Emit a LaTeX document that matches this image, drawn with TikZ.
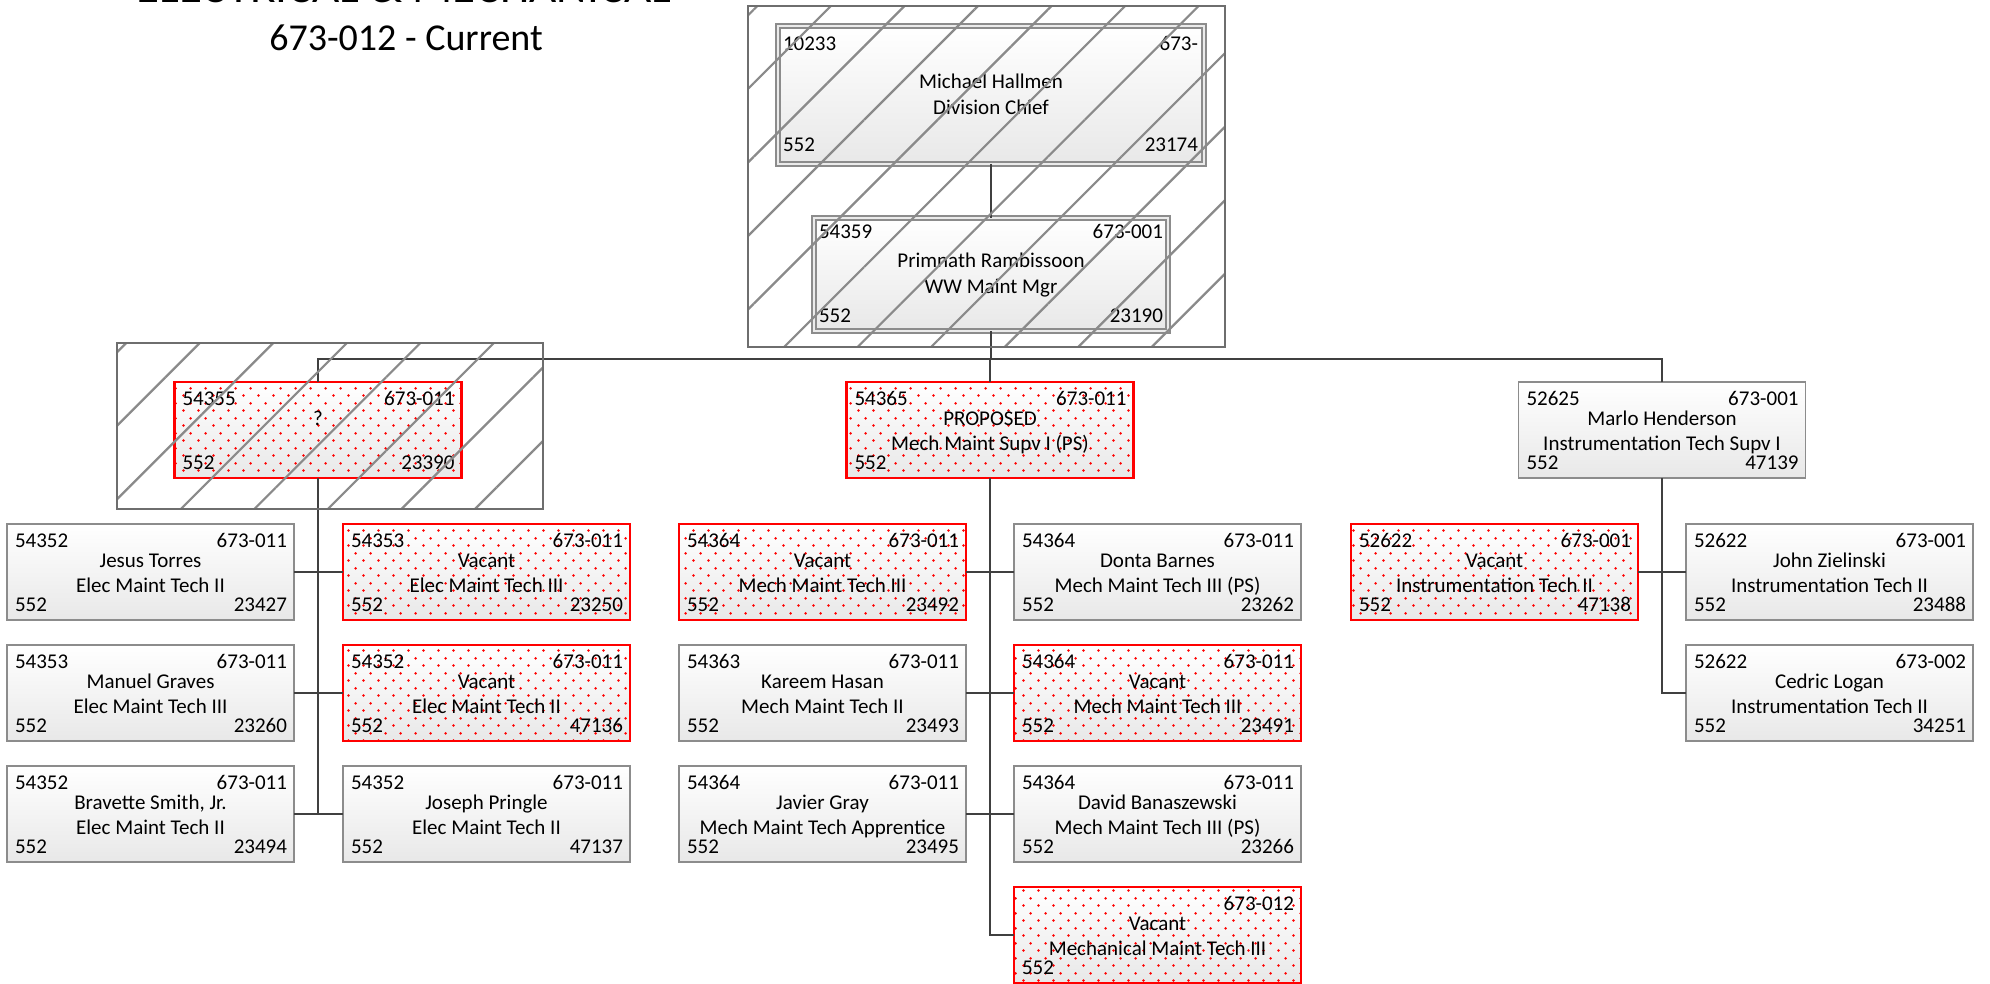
\documentclass[tikz,border=0pt]{standalone}
\usepackage{fontspec}
\setmainfont{Carlito}
\usetikzlibrary{patterns.meta}

\definecolor{bordo}{HTML}{8C8C8C}
\definecolor{fondo}{HTML}{E8E8E8}
\definecolor{collegamento}{HTML}{404040}
\definecolor{cornice}{HTML}{6E6E6E}
\definecolor{righe}{HTML}{8A8A8A}

% puntini rossi delle posizioni vacanti
\tikzdeclarepattern{
  name=puntini,
  type=uncolored,
  bounding box={(0pt,0pt) and (7.5pt,7.5pt)},
  tile size={(7.5pt,7.5pt)},
  code={
    \pgfpathcircle{\pgfqpoint{1.875pt}{1.875pt}}{0.75pt}
    \pgfpathcircle{\pgfqpoint{5.625pt}{5.625pt}}{0.75pt}
    \pgfusepath{fill}
  }
}

% #1 nome, #2 posizione, #3 stile, #4-#5 riga alta, #6 persona, #7 ruolo, #8-#9 riga bassa
\newcommand{\posto}[9]{%
  \node[#3] (#1) at (#2) {};
  \node[testo, anchor=base west] (#1-a) at ([shift={(8,23)}]#1.north west) {#4};
  \node[testo, anchor=base east] (#1-b) at ([shift={(-7,23)}]#1.north east) {#5};
  \node[testo, anchor=base] (#1-c) at ([shift={(0,43)}]#1.north) {#6};
  \node[testo, anchor=base] (#1-d) at ([shift={(0,68)}]#1.north) {#7};
  \node[testo, anchor=base west] (#1-e) at ([shift={(8,87)}]#1.north west) {#8};
  \node[testo, anchor=base east] (#1-f) at ([shift={(-7,87)}]#1.north east) {#9};
}

\begin{document}
\begin{tikzpicture}[
        % un pixel del disegno = mezzo punto, y verso il basso
        x=0.5pt, y=-0.5pt,
        every node/.style={inner sep=0pt, outer sep=0pt},
        testo/.style={font=\fontsize{10.5}{12.5}\selectfont},
        % caselle dell'organigramma
        scheda/.style={rectangle, draw=bordo, line width=0.9pt, top color=white, bottom color=fondo,
                       minimum width=143.5pt, minimum height=48pt},
        vacante/.style={scheda, draw=red, line width=1.4pt, postaction={pattern=puntini, pattern color=red}},
        doppia/.style={scheda, line width=0.8pt, double=black!8, double distance=1.2pt},
        conn/.style={draw=collegamento, line width=1.3pt},
        % riquadri tratteggiati sopra le caselle
        tratteggio/.style={draw=cornice, line width=1.4pt,
                           pattern={Lines[angle=45, distance=26pt, line width=1.1pt]}, pattern color=righe}
    ]
    \useasboundingbox (0,0) rectangle (1990,984);

    \node[anchor=base, font=\fontsize{23.5}{28}\selectfont] (tit1) at (404,3) {ELECTRICAL \& MECHANICAL};
    \node[anchor=base, font=\fontsize{19}{23}\selectfont] (tit2) at (406,51) {673-012 - Current};

    % vertice
    \node[doppia, minimum width=213pt, minimum height=69pt] (capo) at (991,95) {};
    \node[testo, anchor=base west] (capo-a) at (783,51) {10233};
    \node[testo, anchor=base east] (capo-b) at (1198,51) {673-};
    \node[testo, anchor=base] (capo-c) at (991,89) {Michael Hallmen};
    \node[testo, anchor=base] (capo-d) at (991,115) {Division Chief};
    \node[testo, anchor=base west] (capo-e) at (783,152) {552};
    \node[testo, anchor=base east] (capo-f) at (1198,152) {23174};

    \node[doppia, minimum width=177pt, minimum height=56.5pt] (resp) at (991,274.5) {};
    \node[testo, anchor=base west] (resp-a) at (819,239) {54359};
    \node[testo, anchor=base east] (resp-b) at (1163,239) {673-001};
    \node[testo, anchor=base] (resp-c) at (991,268) {Primnath Rambissoon};
    \node[testo, anchor=base] (resp-d) at (991,293) {WW Maint Mgr};
    \node[testo, anchor=base west] (resp-e) at (819,322) {552};
    \node[testo, anchor=base east] (resp-f) at (1163,322) {23190};

    % secondo livello
    \posto{elec}{318,430}{vacante}{54355}{673-011}{?}{}{552}{23390}
    \posto{mech}{990,430}{vacante}{54365}{673-011}{PROPOSED}{Mech Maint Supv I (PS)}{552}{}
    \posto{instr}{1662,430}{scheda}{52625}{673-001}{Marlo Henderson}{Instrumentation Tech Supv I}{552}{47139}

    % elettrici
    \posto{e1l}{150.5,572}{scheda}{54352}{673-011}{Jesus Torres}{Elec Maint Tech II}{552}{23427}
    \posto{e1r}{486.5,572}{vacante}{54353}{673-011}{Vacant}{Elec Maint Tech III}{552}{23250}
    \posto{e2l}{150.5,693}{scheda}{54353}{673-011}{Manuel Graves}{Elec Maint Tech III}{552}{23260}
    \posto{e2r}{486.5,693}{vacante}{54352}{673-011}{Vacant}{Elec Maint Tech II}{552}{47136}
    \posto{e3l}{150.5,814}{scheda}{54352}{673-011}{Bravette Smith, Jr.}{Elec Maint Tech II}{552}{23494}
    \posto{e3r}{486.5,814}{scheda}{54352}{673-011}{Joseph Pringle}{Elec Maint Tech II}{552}{47137}

    % meccanici
    \posto{m1l}{822.5,572}{vacante}{54364}{673-011}{Vacant}{Mech Maint Tech III}{552}{23492}
    \posto{m1r}{1157.5,572}{scheda}{54364}{673-011}{Donta Barnes}{Mech Maint Tech III (PS)}{552}{23262}
    \posto{m2l}{822.5,693}{scheda}{54363}{673-011}{Kareem Hasan}{Mech Maint Tech II}{552}{23493}
    \posto{m2r}{1157.5,693}{vacante}{54364}{673-011}{Vacant}{Mech Maint Tech III}{552}{23491}
    \posto{m3l}{822.5,814}{scheda}{54364}{673-011}{Javier Gray}{Mech Maint Tech Apprentice}{552}{23495}
    \posto{m3r}{1157.5,814}{scheda}{54364}{673-011}{David Banaszewski}{Mech Maint Tech III (PS)}{552}{23266}
    \posto{m4r}{1157.5,935}{vacante}{}{673-012}{Vacant}{Mechanical Maint Tech III}{552}{}

    % strumentisti
    \posto{i1l}{1494.5,572}{vacante}{52622}{673-001}{Vacant}{Instrumentation Tech II}{552}{47138}
    \posto{i1r}{1829.5,572}{scheda}{52622}{673-001}{John Zielinski}{Instrumentation Tech II}{552}{23488}
    \posto{i2r}{1829.5,693}{scheda}{52622}{673-002}{Cedric Logan}{Instrumentation Tech II}{552}{34251}

    % collegamenti
    \coordinate (bus) at (991,359);
    \draw[conn] (capo.south) -- (resp.north);
    \draw[conn] (resp.south) -- (bus);
    \draw[conn] (elec.north) |- (bus) -| (instr.north);
    \draw[conn] (mech.north) -- (mech.north |- bus);

    \draw[conn] (elec.south) -- (elec.south |- e3l.east);
    \draw[conn] (e1l.east) -- (e1r.west);
    \draw[conn] (e2l.east) -- (e2r.west);
    \draw[conn] (e3l.east) -- (e3r.west);

    \draw[conn] (mech.south) |- (m4r.west);
    \draw[conn] (m1l.east) -- (m1r.west);
    \draw[conn] (m2l.east) -- (m2r.west);
    \draw[conn] (m3l.east) -- (m3r.west);

    \draw[conn] (instr.south) |- (i2r.west);
    \draw[conn] (i1l.east) -- (i1r.west);

    \draw[tratteggio] (748,6) rectangle (1225,347);
    \draw[tratteggio] (117,343) rectangle (543,509);
\end{tikzpicture}
\end{document}
